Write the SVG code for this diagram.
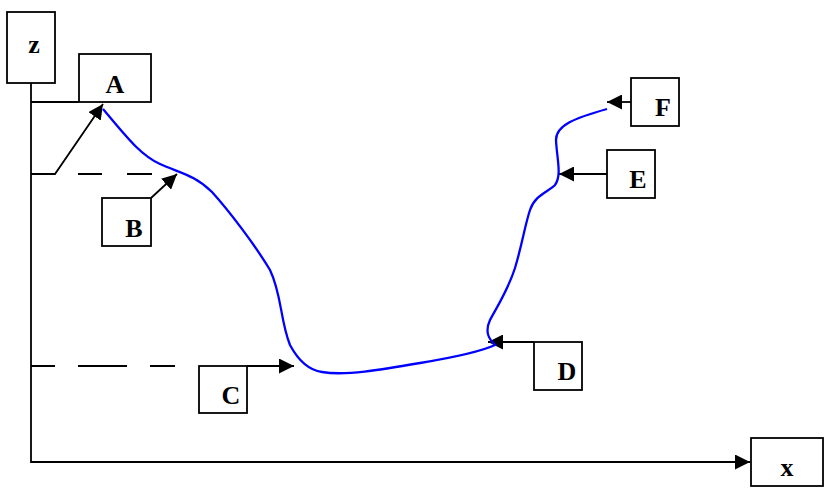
<svg xmlns="http://www.w3.org/2000/svg" width="826" height="488" viewBox="0 0 826 488">
<style>
.box{fill:#fff;stroke:#000;stroke-width:1.8}
.lbl{font-family:"Liberation Serif",serif;font-weight:bold;font-size:26px;text-anchor:middle;fill:#000}
.ln{fill:none;stroke:#000;stroke-width:1.8}
.dash{fill:none;stroke:#000;stroke-width:1.8}
.curve{fill:none;stroke:#0000ff;stroke-width:2.3}
</style>
<defs>
<marker id="ahL" viewBox="0 0 10 10" refX="10" refY="5" markerWidth="15" markerHeight="15" markerUnits="userSpaceOnUse" orient="auto">
<path d="M0,0 L10,5 L0,10 z" fill="#000"/>
</marker>
</defs>
<g id="connectors">
<path class="ln" d="M31,83 V462 H750" marker-end="url(#ahL)"/>
<path class="ln" d="M31,102 H79"/>
<path class="ln" d="M31,174 H55 L103,104" marker-end="url(#ahL)"/>
<path class="dash" d="M78,174 H102 M127,174 H152"/>
<path class="ln" d="M151,198 L177,174" marker-end="url(#ahL)"/>
<path class="dash" d="M31,366 H55 M78,366 H127 M150,366 H175"/>
<path class="ln" d="M247,366 H294" marker-end="url(#ahL)"/>
<path class="ln" d="M534,342 H488" marker-end="url(#ahL)"/>
<path class="ln" d="M607,174 H559" marker-end="url(#ahL)"/>
<path class="ln" d="M631,102 H607" marker-end="url(#ahL)"/>
<path class="curve" d="M103,109 C125,135 140,155 160,164 C180,173 195,175 212,192 C230,212 255,245 270,270 C282,295 280,320 290,345 C298,360 308,370 322,372 C345,376 380,370 420,363 C450,358 480,352 495,345 C490,340 484,333 490,320 C498,305 508,290 515,268 C522,245 525,225 530,210 C535,195 548,192 555,185 C562,175 557,160 556,140 C556,125 575,118 607,109"/>
</g>
<g id="node-z"><rect class="box" x="7" y="12" width="48" height="71"/><text class="lbl" x="34" y="53">z</text></g>
<g id="node-A"><rect class="box" x="79" y="54" width="72" height="48"/><text class="lbl" x="115" y="93">A</text></g>
<g id="node-B"><rect class="box" x="102" y="198" width="49" height="48"/><text class="lbl" x="134" y="237">B</text></g>
<g id="node-C"><rect class="box" x="199" y="366" width="48" height="47"/><text class="lbl" x="231" y="404">C</text></g>
<g id="node-D"><rect class="box" x="534" y="342" width="48" height="48"/><text class="lbl" x="567" y="380">D</text></g>
<g id="node-E"><rect class="box" x="607" y="150" width="48" height="48"/><text class="lbl" x="638" y="188">E</text></g>
<g id="node-F"><rect class="box" x="631" y="78" width="48" height="48"/><text class="lbl" x="663" y="116">F</text></g>
<g id="node-x"><rect class="box" x="751" y="438" width="72" height="48"/><text class="lbl" x="787" y="476">x</text></g>
</svg>
